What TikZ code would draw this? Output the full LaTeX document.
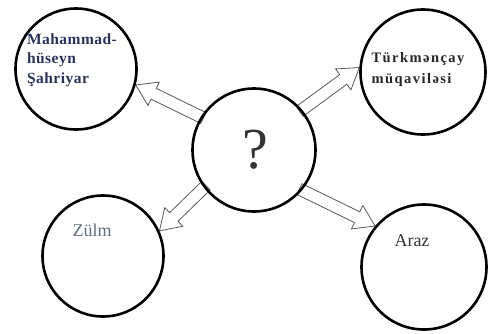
\documentclass[tikz,border=0pt]{standalone}
\usepackage{fontspec}
\setmainfont{Liberation Serif}
\usetikzlibrary{calc,backgrounds}

\tikzset{
  ring/.style={draw, circle, line width=2.6pt, inner sep=0pt, minimum size=#1},
  ring/.default=122pt,
  hollow/.style={draw=black!65, line width=0.8pt, fill=white, line join=miter},
  lbl/.style={align=left, inner sep=0pt},
}

% hollow block arrow from #1 to #2
\newcommand{\blockarrow}[2]{%
  \coordinate (s) at ($(#1)!-3pt!(#2)$);
  \coordinate (h) at ($(#2)!20pt!(#1)$);
  \draw[hollow] ($(s)!6pt!90:(#2)$) -- ($(h)!6pt!90:(#2)$) -- ($(h)!13pt!90:(#2)$)
    -- (#2) -- ($(h)!13pt!-90:(#2)$) -- ($(h)!6pt!-90:(#2)$) -- ($(s)!6pt!-90:(#2)$) -- cycle;
}

\begin{document}
\begin{tikzpicture}[x=1pt,y=-1pt]
\useasboundingbox (0,0) rectangle (488,333);

\node[ring=123pt] (q) at (254,150) {};
\node[ring=121pt] (tl) at (76,69) {};
\node[ring=125pt] (tr) at (423,72) {};
\node[ring=121pt] (bl) at (103,256) {};
\node[ring=125pt] (br) at (424,267) {};

\begin{scope}[on background layer]
\blockarrow{q.148}{tl.-15}
\blockarrow{q.40}{tr.176}
\blockarrow{q.217}{bl.24}
\blockarrow{q.-40}{br.140}
\end{scope}

\node[lbl, text=black!80, font=\fontsize{58}{58}\selectfont] (qm) at (255,150) {?};
\node[lbl, text={rgb,255:red,40;green,50;blue,95}, font=\fontsize{15.5}{19.5}\selectfont\bfseries\addfontfeature{LetterSpace=3}] (tltext) at (72,60)
  {Mahammad-\\ hüseyn\\ Şahriyar};
\node[lbl, text=black!85, font=\fontsize{14.5}{21}\selectfont\bfseries\addfontfeature{LetterSpace=10}] (trtext) at (418,70)
  {Türkmənçay\\ müqaviləsi};
\node[lbl, text={rgb,255:red,92;green,110;blue,134}, font=\fontsize{18}{18}\selectfont] (bltext) at (92,230)
  {Zülm};
\node[lbl, text=black!80, font=\fontsize{18}{18}\selectfont] (brtext) at (412,241)
  {Araz};

\end{tikzpicture}
\end{document}
